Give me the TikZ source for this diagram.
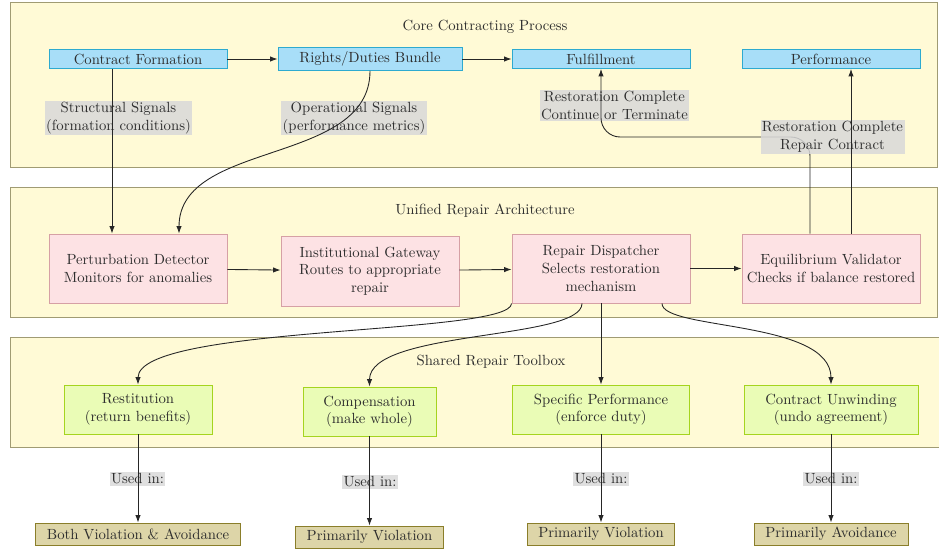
\documentclass[tikz,border=0pt]{standalone}
\usetikzlibrary{arrows.meta,calc}
\newcommand\pxu{0.679pt}
\definecolor{panelfill}{RGB}{255,250,214}
\definecolor{panelborder}{RGB}{160,155,115}
\definecolor{bluefill}{RGB}{168,222,248}
\definecolor{blueborder}{RGB}{45,170,208}
\definecolor{pinkfill}{RGB}{253,226,228}
\definecolor{pinkborder}{RGB}{214,160,165}
\definecolor{greenfill}{RGB}{234,252,182}
\definecolor{greenborder}{RGB}{165,212,30}
\definecolor{tanfill}{RGB}{221,213,168}
\definecolor{tanborder}{RGB}{138,126,42}
\definecolor{txt}{RGB}{45,45,45}
\begin{document}
\begin{tikzpicture}[x=0.679pt,y=-0.679pt,
  panel/.style={draw=panelborder, fill=panelfill, line width=0.6pt, inner sep=0},
  boxbase/.style={inner sep=0, align=center, line width=0.6pt, text=txt},
  coreNode/.style={boxbase, draw=blueborder, fill=bluefill},
  repairNode/.style={boxbase, draw=pinkborder, fill=pinkfill},
  toolNode/.style={boxbase, draw=greenborder, fill=greenfill},
  useNode/.style={boxbase, draw=tanborder, fill=tanfill},
  title/.style={text=txt, inner sep=0},
  lbl/.style={fill=gray!30, fill opacity=0.85, text opacity=1, inner sep=1pt, align=center, text=txt},
  conn/.style={draw=black!85, line width=0.6pt, -{Latex[length=5pt,width=3.6pt]}}
]
\useasboundingbox (0,0) rectangle (939,550);

% panels
\node[panel, minimum width=927*\pxu, minimum height=165*\pxu] (p1) at (473.5,84.5) {};
\node[panel, minimum width=927*\pxu, minimum height=130*\pxu] (p2) at (473.5,252) {};
\node[panel, minimum width=937*\pxu, minimum height=110*\pxu] (p3) at (478.5,392) {};
\node[title] (t1) at (485,26.5) {Core Contracting Process};
\node[title] (t2) at (485,210.5) {Unified Repair Architecture};
\node[title] (t3) at (491,361.5) {Shared Repair Toolbox};

% core nodes
\node[coreNode, minimum width=178*\pxu, minimum height=19*\pxu] (cf) at (138,59) {Contract Formation};
\node[coreNode, minimum width=184*\pxu, minimum height=23*\pxu] (rd) at (370,59) {Rights/Duties Bundle};
\node[coreNode, minimum width=178*\pxu, minimum height=19*\pxu] (ful) at (601,59) {Fulfillment};
\node[coreNode, minimum width=178*\pxu, minimum height=19*\pxu] (perf) at (831,59) {Performance};

% repair nodes
\node[repairNode, minimum width=178*\pxu, minimum height=69*\pxu] (pd) at (138,268.5) {Perturbation Detector\\Monitors for anomalies};
\node[repairNode, minimum width=178*\pxu, minimum height=70*\pxu] (ig) at (370,271) {Institutional Gateway\\Routes to appropriate\\repair};
\node[repairNode, minimum width=178*\pxu, minimum height=69*\pxu] (disp) at (601,268.5) {Repair Dispatcher\\Selects restoration\\mechanism};
\node[repairNode, minimum width=178*\pxu, minimum height=69*\pxu] (val) at (831,268.5) {Equilibrium Validator\\Checks if balance restored};

% toolbox nodes
\node[toolNode, minimum width=148*\pxu, minimum height=49*\pxu] (rest) at (138,409.5) {Restitution\\(return benefits)};
\node[toolNode, minimum width=133*\pxu, minimum height=49*\pxu] (comp) at (369.5,411.5) {Compensation\\(make whole)};
\node[toolNode, minimum width=177*\pxu, minimum height=49*\pxu] (spec) at (601,409.5) {Specific Performance\\(enforce duty)};
\node[toolNode, minimum width=174*\pxu, minimum height=49*\pxu] (unw) at (831,409.5) {Contract Unwinding\\(undo agreement)};

% usage nodes
\node[useNode, minimum width=205*\pxu, minimum height=22*\pxu] (u1) at (138,534) {Both Violation \& Avoidance};
\node[useNode, minimum width=148*\pxu, minimum height=22*\pxu] (u2) at (369.5,537) {Primarily Violation};
\node[useNode, minimum width=147*\pxu, minimum height=22*\pxu] (u3) at (601,534) {Primarily Violation};
\node[useNode, minimum width=154*\pxu, minimum height=22*\pxu] (u4) at (831,534) {Primarily Avoidance};

% labels lying under their connectors
\node[lbl] (l1) at (118.5,118) {Structural Signals\\(formation conditions)};
\node[lbl] (l2) at (354,118) {Operational Signals\\(performance metrics)};
\node[lbl] (l3) at (614.5,105.5) {Restoration Complete\\Continue or Terminate};
\node[lbl] (l5) at (137.5,479) {Used in:};
\node[lbl] (l6) at (370,482) {Used in:};
\node[lbl] (l7) at (601,479) {Used in:};
\node[lbl] (l8) at (831,479) {Used in:};

% connectors
\draw[conn] (cf) -- (rd);
\draw[conn] (rd) -- (ful);
\draw[conn] ([xshift=-26*\pxu]cf.south) -- ([xshift=-26*\pxu]pd.north);
\draw[conn] (rd.south) .. controls ($(rd.south)+(0,95)$) and ($(pd.north)+(41,-94)$) .. ([xshift=41*\pxu]pd.north);
\draw[conn] (pd) -- (ig);
\draw[conn] (ig) -- (disp);
\draw[conn] (disp) -- (val);
\coordinate (turn) at (601,137);
\draw[conn, rounded corners=13pt] ([xshift=-21*\pxu]val.north) |- (turn) -- (ful.south);
\node[lbl] (l4) at (832.5,137) {Restoration Complete\\Repair Contract};
\draw[conn] ([xshift=20*\pxu]val.north) -- ([xshift=20*\pxu]perf.south);
\draw[conn] (disp.south west) .. controls ($(disp.south west)+(0,32)$) and ($(rest.north)+(0,-60)$) .. (rest.north);
\draw[conn] ([xshift=-19*\pxu]disp.south) .. controls ($(disp.south)+(-19,37)$) and ($(comp.north)+(0,-57)$) .. (comp.north);
\draw[conn] (disp) -- (spec);
\draw[conn] ([xshift=61*\pxu]disp.south) .. controls ($(disp.south)+(61,27)$) and ($(unw.north)+(0,-65)$) .. (unw.north);
\draw[conn] (rest) -- (u1);
\draw[conn] (comp) -- (u2);
\draw[conn] (spec) -- (u3);
\draw[conn] (unw) -- (u4);
\end{tikzpicture}
\end{document}
